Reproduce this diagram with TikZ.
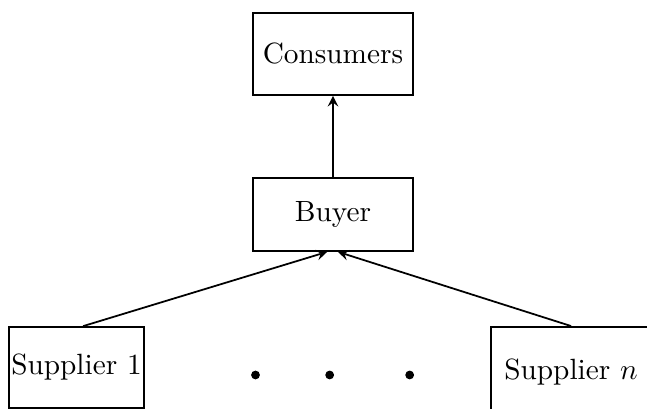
\documentclass[tikz,border=0pt]{standalone}
\usepackage{amsmath}
\usepackage{amssymb}
\usepackage{tikz}

\begin{document}
\begin{tikzpicture}[>=stealth,
    box/.style={draw,semithick,inner sep=2pt},
    dot/.style={circle,fill,inner sep=0pt,minimum size=3pt}]
      \useasboundingbox (0,0) rectangle (7.764,4.908);
      \node [box,minimum width=1.92cm,minimum height=0.984cm] (cons) at (3.996,4.26) {Consumers};
      \node [box,below of=cons,yshift=-0.926cm,minimum width=1.92cm,minimum height=0.876cm] (buyer) {Buyer};
      \node [box,below of=buyer,xshift=-3.078cm,yshift=-0.836cm,inner xsep=0.8pt,minimum width=1.596cm,minimum height=0.972cm] (sup1) {Supplier 1};
      \node [box,below of=buyer,xshift=2.856cm,yshift=-0.894cm,minimum width=1.92cm,minimum height=1.09cm] (supn) {Supplier $n$};
      %% dots between the suppliers
      \node [dot,below of=buyer,xshift=-0.93cm,yshift=-0.926cm] (d1) {};
      \node [dot,below of=buyer,xshift=-0.04cm,yshift=-0.926cm] (d2) {};
      \node [dot,below of=buyer,xshift=0.92cm,yshift=-0.926cm] (d3) {};

      \draw[->,semithick] (buyer) -- (cons);
      \draw[->,semithick] ([xshift=0.08cm]sup1.north) -- ([xshift=-0.07cm]buyer.south);
      \draw[->,semithick] (supn.north) -- ([xshift=0.06cm]buyer.south);
    \end{tikzpicture}
\end{document}
